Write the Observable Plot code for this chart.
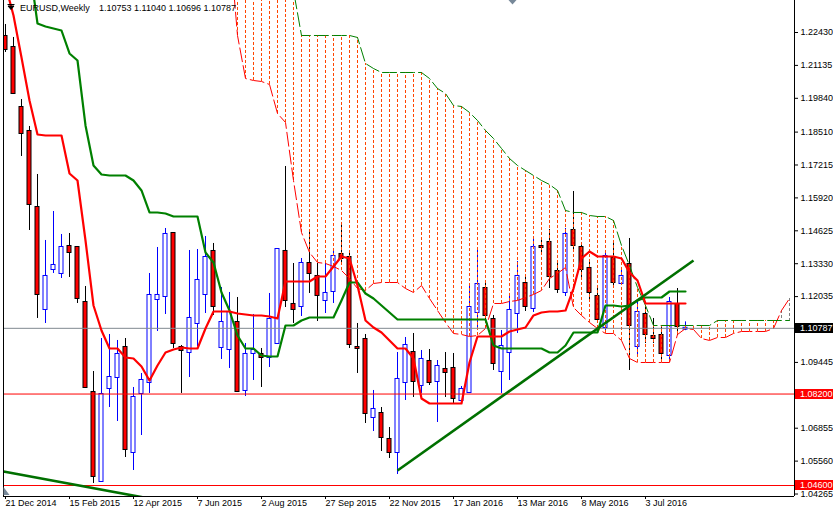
<!DOCTYPE html>
<html><head><meta charset="utf-8">
<script src="https://cdn.jsdelivr.net/npm/d3@7"></script>
<script src="https://cdn.jsdelivr.net/npm/@observablehq/plot@0.6"></script>
<style>
html,body{margin:0;padding:0;background:#fff;}
#chart svg{display:block;}
</style></head><body><div id="chart"></div>
<script>
// ---------- data ----------
const symbolName = "EURUSD,Weekly";
const lastQuote = [1.10753, 1.11040, 1.10696, 1.10787];
const dateTicks = [0, 8, 16, 24, 32, 40, 48, 56, 64, 72, 80];
const dateLabels = ["21 Dec 2014","15 Feb 2015","12 Apr 2015","7 Jun 2015","2 Aug 2015","27 Sep 2015","22 Nov 2015","17 Jan 2016","13 Mar 2016","8 May 2016","3 Jul 2016"];
const priceTicks = [1.22430,1.21135,1.19840,1.18510,1.17215,1.15920,1.14625,1.13330,1.12035,1.09445,1.06855,1.05560,1.04265];
const xView = [-0.25, 98.625];
const yView = [1.041673, 1.236895];

const open = [1.22273,1.21840,1.19478,1.18534,1.15542,1.11528,1.13102,1.12945,1.14007,1.13968,
 1.11803,1.08261,1.04758,1.08418,1.08851,1.10032,1.05899,1.08222,1.08654,1.11921,
 1.12039,1.14519,1.10032,1.09835,1.10977,1.12118,1.13811,1.10032,1.09953,1.11016,
 1.08340,1.09796,1.09757,1.09638,1.10190,1.13811,1.11725,1.11646,1.13338,1.12827,
 1.11882,1.12236,1.13693,1.13574,1.10032,1.10347,1.07277,1.07434,1.06411,1.05899,
 1.08654,1.09835,1.08536,1.09481,1.08694,1.09166,1.09206,1.07946,1.08261,1.11410,
 1.12354,1.11134,1.09087,1.09835,1.11370,1.12551,1.11567,1.14007,1.14165,1.13023,
 1.12197,1.14637,1.13968,1.13142,1.12039,1.10819,1.13535,1.12551,1.13299,1.10071,
 1.11331,1.10465,1.10504,1.09717,1.11725,1.10753];
const high = [1.22745,1.22234,1.19793,1.18731,1.16841,1.14244,1.15385,1.14480,1.14519,1.14007,
 1.12433,1.09087,1.10386,1.10544,1.10308,1.10386,1.08458,1.09009,1.12945,1.13968,
 1.14716,1.14558,1.10111,1.13850,1.13889,1.14401,1.14126,1.12394,1.12197,1.12000,
 1.10190,1.11331,1.09993,1.12158,1.13889,1.17156,1.13338,1.13535,1.14637,1.13338,
 1.13338,1.13889,1.14952,1.13771,1.10977,1.10544,1.08340,1.07670,1.06883,1.09835,
 1.10426,1.10583,1.09914,1.09953,1.09520,1.09835,1.09796,1.08497,1.12551,1.13850,
 1.12551,1.11292,1.10701,1.12158,1.13417,1.12787,1.14362,1.14322,1.14677,1.13378,
 1.14716,1.16172,1.14126,1.13378,1.12433,1.13732,1.14165,1.13102,1.14322,1.11803,
 1.11685,1.11174,1.10819,1.12000,1.12354,1.11040];
const low = [1.21643,1.19990,1.17550,1.14637,1.11174,1.10977,1.12945,1.12748,1.12787,1.11764,
 1.08418,1.04679,1.04718,1.07670,1.07119,1.05702,1.05191,1.06568,1.08222,1.10662,
 1.11331,1.09993,1.08222,1.08851,1.10071,1.11370,1.11292,1.09560,1.09206,1.08261,
 1.08103,1.08733,1.08458,1.09245,1.10150,1.11606,1.10977,1.11252,1.12158,1.11055,
 1.11370,1.11764,1.13378,1.09993,1.09009,1.07041,1.06726,1.05939,1.05663,1.05033,
 1.07946,1.08064,1.08222,1.08536,1.07080,1.08064,1.07828,1.07828,1.08222,1.10780,
 1.11095,1.09127,1.08222,1.08733,1.10583,1.11449,1.11410,1.13693,1.12354,1.12158,
 1.12039,1.13771,1.12787,1.11882,1.10977,1.10701,1.12472,1.12512,1.09127,1.09717,
 1.10190,1.10190,1.09442,1.09520,1.10504,1.10696];
const close = [1.21761,1.20030,1.18455,1.15661,1.12118,1.12827,1.13260,1.13968,1.13771,1.11961,
 1.08458,1.04955,1.08182,1.08851,1.09757,1.06017,1.08064,1.08733,1.12079,1.12079,
 1.14480,1.10190,1.09914,1.11174,1.12669,1.13574,1.11646,1.11016,1.11410,1.08300,
 1.09757,1.09914,1.09638,1.11134,1.13889,1.11882,1.11528,1.13338,1.12945,1.12079,
 1.12158,1.13614,1.13535,1.10150,1.09993,1.07434,1.07592,1.06490,1.05899,1.08773,
 1.10111,1.08694,1.09560,1.08654,1.09284,1.09048,1.08025,1.08379,1.11606,1.12512,
 1.11292,1.09402,1.10071,1.11488,1.12827,1.11646,1.13968,1.13968,1.12827,1.12315,
 1.14480,1.14047,1.13102,1.12197,1.11134,1.13614,1.12590,1.12827,1.10898,1.11410,
 1.10544,1.10386,1.09796,1.11803,1.10859,1.10787];

const tenkan = [1.24280,1.23100,1.21446,1.19754,1.18416,1.18376,1.18376,1.18376,1.16881,1.16605,
 1.14244,1.11685,1.10701,1.09993,1.09993,1.09638,1.09599,1.09284,1.08733,1.09324,
 1.09835,1.09953,1.10032,1.09993,1.09993,1.10780,1.11449,1.11449,1.11449,1.11370,
 1.11331,1.11292,1.11292,1.11252,1.11174,1.12630,1.12630,1.12630,1.12630,1.12827,
 1.12827,1.13220,1.13614,1.13535,1.12472,1.11095,1.10819,1.10623,1.10308,1.09993,
 1.09993,1.09599,1.08025,1.07828,1.07828,1.07828,1.07828,1.07828,1.09442,1.10465,
 1.10465,1.10465,1.10465,1.10662,1.10741,1.10819,1.11292,1.11410,1.11449,1.11449,
 1.11488,1.12354,1.13535,1.13811,1.13614,1.13614,1.13614,1.13535,1.12984,1.12669,
 1.11764,1.11764,1.11764,1.11764,1.11764,1.11764];
const kijun = [1.26839,1.26445,1.25658,1.25068,1.22785,1.22667,1.22588,1.22509,1.21604,1.21328,
 1.18770,1.17196,1.16841,1.16802,1.16802,1.16802,1.16605,1.16212,1.15346,1.15346,
 1.15306,1.15188,1.15188,1.15188,1.15188,1.13771,1.13378,1.12197,1.11488,1.10504,
 1.09993,1.09993,1.09717,1.09678,1.09678,1.10898,1.10898,1.11095,1.11213,1.11213,
 1.11213,1.11213,1.11882,1.12590,1.12590,1.12158,1.11961,1.11685,1.11410,1.11134,
 1.11134,1.11134,1.11134,1.11134,1.11134,1.11134,1.11134,1.11134,1.11134,1.11134,
 1.11134,1.10111,1.09993,1.09993,1.09993,1.09993,1.09993,1.09993,1.09835,1.09835,
 1.10111,1.10623,1.10623,1.10623,1.10623,1.11685,1.11685,1.11646,1.11685,1.11882,
 1.12000,1.12000,1.12000,1.12236,1.12236,1.12236];

const spanStart = 28;
const spanA = [1.26052,1.22312,1.20620,1.20541,1.20502,1.20384,1.19242,1.18888,1.16605,1.14558,
 1.13771,1.13378,1.13338,1.13220,1.13063,1.12748,1.12354,1.12276,1.12551,1.12590,
 1.12590,1.12590,1.12354,1.12197,1.12472,1.11961,1.11488,1.11016,1.10583,1.10544,
 1.10465,1.10504,1.10780,1.11764,1.11764,1.11843,1.11882,1.12000,1.12118,1.12276,
 1.12748,1.12945,1.13181,1.11606,1.11292,1.11016,1.10780,1.10583,1.10583,1.10308,
 1.09599,1.09442,1.09442,1.09442,1.09442,1.09442,1.10544,1.10780,1.10741,1.10386,
 1.10308,1.10426,1.10426,1.10583,1.10662,1.10662,1.10662,1.10662,1.10780,1.11488,
 1.11961];
const spanB = [1.27626,1.26052,1.26052,1.26052,1.26052,1.26052,1.26052,1.26052,1.24084,1.22312,
 1.22312,1.22312,1.22312,1.22312,1.22312,1.22312,1.22234,1.21210,1.21013,1.20856,
 1.20856,1.20856,1.20856,1.20856,1.20856,1.20620,1.20226,1.20030,1.19557,1.19518,
 1.19282,1.18967,1.18573,1.18258,1.17865,1.17471,1.17196,1.16999,1.16802,1.16605,
 1.16448,1.16212,1.15424,1.15346,1.15346,1.15228,1.15188,1.15188,1.15031,1.14047,
 1.13260,1.12394,1.11685,1.10898,1.10898,1.10898,1.10898,1.10898,1.10898,1.10898,
 1.10898,1.11095,1.11095,1.11095,1.11095,1.11095,1.11095,1.11095,1.11095,1.11095,
 1.11095];

const trendStartIdx = [-0.25, 49];
const trendStartPrice = [1.05151, 1.05191];
const trendEndIdx = [17.5, 86];
const trendEndPrice = [1.04116, 1.13456];

const levelRed = [1.08200, 1.04600];
const currentPrice = 1.10787;

// ---------- derived tables ----------
const candles = open.map((o, i) => ({i, o, h: high[i], l: low[i], c: close[i], up: close[i] > open[i]}));
const bulls = candles.filter(d => d.up);
const bears = candles.filter(d => !d.up);
const tenkanPts = tenkan.map((v, i) => ({i, v}));
const kijunPts = kijun.map((v, i) => ({i, v}));
const cloud = spanA.map((a, k) => ({i: spanStart + k, a, b: spanB[k]}));
const cloudDown = cloud.filter(d => d.a <= d.b);
const cloudUp = cloud.filter(d => d.a > d.b);
const trends = trendStartIdx.map((x, k) => ({x1: x, y1: trendStartPrice[k], x2: trendEndIdx[k], y2: trendEndPrice[k]}));
const boxes = [
  {v: currentPrice, bg: "#000000", fg: "#ffffff"},
  {v: levelRed[0], bg: "#ff0000", fg: "#ffffff"},
  {v: levelRed[1], bg: "#ff0000", fg: "#ffffff"}
];
const fmt5 = d3.format(".5f");
const FONT = "'Liberation Sans', Arial, sans-serif";

function headerMark(index, scales, values, dim) {
  const g = d3.create("svg:g").attr("font-family", FONT).attr("font-size", 9).attr("fill", "#000").attr("text-anchor", "start");
  g.append("path").attr("d", "M7.5,4.5h7M8,6h6l-3,3.5z").attr("stroke", "#000").attr("stroke-width", 1).attr("fill", "#000");
  g.append("text").attr("x", 20).attr("y", 10.5).attr("text-anchor", "start").text(symbolName);
  g.append("text").attr("x", 99).attr("y", 10.5).attr("text-anchor", "start").text(lastQuote.map(fmt5).join(" "));
  // chart-shift markers (window chrome)
  g.append("path").attr("d", "M508.5,0h8l-4,4.5z").attr("fill", "#778899");
  const yb = dim.height - dim.marginBottom;
  g.append("path").attr("d", `M${dim.marginLeft + 0.5},${yb - 9}v8h6z`).attr("fill", "#778899");
  return g.node();
}
function boxMark(index, scales, values, dim) {
  const g = d3.create("svg:g").attr("font-family", FONT).attr("font-size", 9).attr("text-anchor", "start");
  const x0 = dim.width - dim.marginRight + 1;
  for (const b of boxes) {
    const yy = Math.round(scales.y(b.v));
    g.append("rect").attr("x", x0).attr("y", yy - 5).attr("width", dim.marginRight - 1).attr("height", 10).attr("fill", b.bg);
    g.append("text").attr("x", x0 + 5).attr("y", yy).attr("dy", "0.34em").attr("text-anchor", "start").attr("fill", b.fg).text(fmt5(b.v));
  }
  return g.node();
}

const chart = Plot.plot({
  width: 833, height: 511,
  marginLeft: 3, marginRight: 39, marginTop: 0, marginBottom: 15,
  style: {fontFamily: FONT, fontSize: "9px", background: "#ffffff", color: "#000000"},
  x: {type: "linear", domain: xView},
  y: {type: "linear", domain: yView},
  marks: [
    // candles
    Plot.ruleX(bulls, {x: "i", y1: "l", y2: "h", stroke: "#0000ff", strokeWidth: 1, clip: true}),
    Plot.ruleX(bears, {x: "i", y1: "l", y2: "h", stroke: "#000000", strokeWidth: 1, clip: true}),
    Plot.rect(bulls, {x1: d => d.i - 0.5, x2: d => d.i + 0.5, y1: "o", y2: "c",
      insetLeft: 2, insetRight: 2, insetTop: -0.5, insetBottom: -0.5,
      fill: "#ffffff", stroke: "#0000ff", strokeWidth: 1, clip: true}),
    Plot.rect(bears, {x1: d => d.i - 0.5, x2: d => d.i + 0.5, y1: "o", y2: "c",
      insetLeft: 2, insetRight: 2, insetTop: -0.5, insetBottom: -0.5,
      fill: "#ff0000", stroke: "#000000", strokeWidth: 1, clip: true}),
    // cloud hatch
    Plot.ruleX(cloudDown, {x: "i", y1: "a", y2: "b", stroke: "#ff4500", strokeWidth: 1, strokeDasharray: "3,2", clip: true}),
    Plot.ruleX(cloudUp, {x: "i", y1: "a", y2: "b", stroke: "#808080", strokeWidth: 1, strokeDasharray: "3,2", clip: true}),
    Plot.line(cloud, {x: "i", y: "a", stroke: "#ff0000", strokeWidth: 1, strokeDasharray: "14,4", clip: true}),
    Plot.line(cloud, {x: "i", y: "b", stroke: "#008000", strokeWidth: 1, strokeDasharray: "14,4", clip: true}),
    // levels
    Plot.ruleY(levelRed, {stroke: "#ff0000", strokeWidth: 1}),
    Plot.ruleY([currentPrice], {stroke: "#808890", strokeWidth: 1}),
    // tenkan / kijun
    Plot.line(kijunPts, {x: "i", y: "v", stroke: "#008000", strokeWidth: 2.2, clip: true}),
    Plot.line(tenkanPts, {x: "i", y: "v", stroke: "#ff0000", strokeWidth: 2.2, clip: true}),
    // trend lines
    Plot.link(trends, {x1: "x1", y1: "y1", x2: "x2", y2: "y2", stroke: "#007000", strokeWidth: 2.6, clip: true}),
    // frame
    Plot.ruleX(xView, {stroke: "#000000"}),
    Plot.ruleY([yView[0]], {stroke: "#000000"}),
    // axes
    Plot.axisY(priceTicks, {anchor: "right", tickSize: 3, tickPadding: 3, tickFormat: fmt5, fontSize: 9}),
    Plot.axisX(dateTicks, {anchor: "bottom", tickSize: 3, tickPadding: 0, textAnchor: "start",
      tickFormat: d => dateLabels[dateTicks.indexOf(d)], fontSize: 9}),
    boxMark,
    headerMark
  ]
});
document.getElementById("chart").appendChild(chart);
</script>
</body></html>
